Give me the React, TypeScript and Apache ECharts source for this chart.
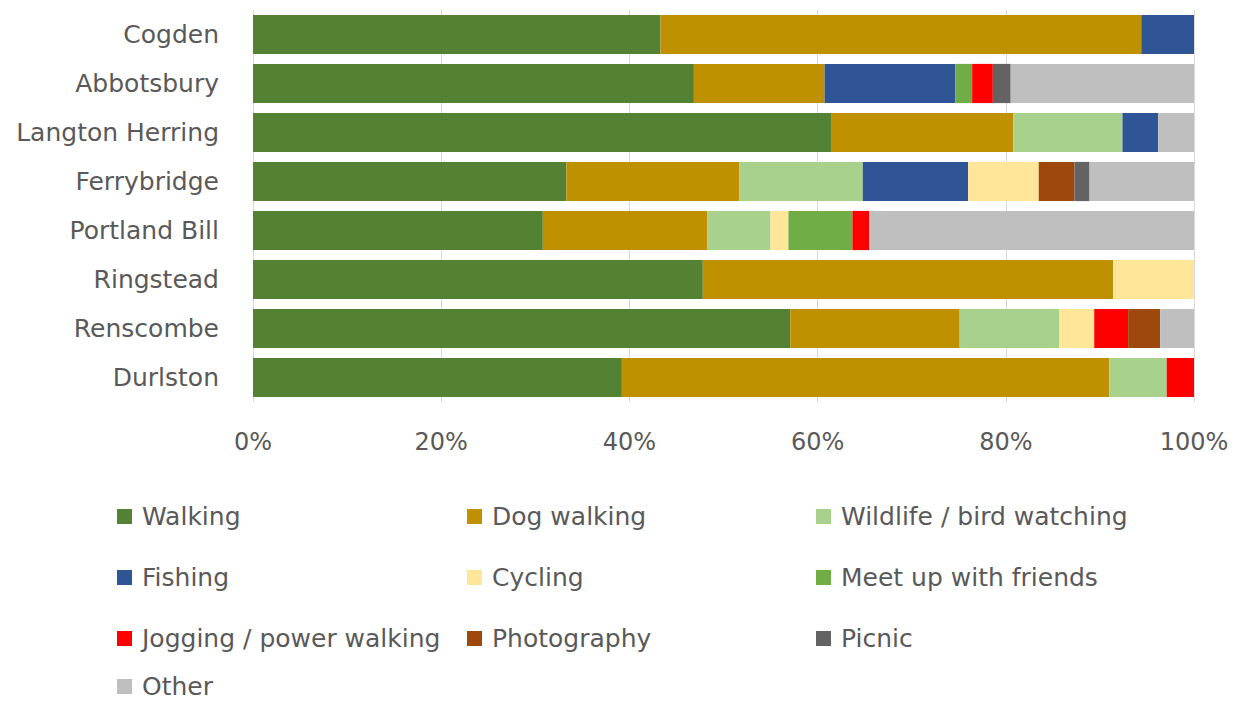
import React, { useEffect, useRef } from "react";
import * as echarts from "echarts";

const categories = ["Cogden", "Abbotsbury", "Langton Herring", "Ferrybridge", "Portland Bill", "Ringstead", "Renscombe", "Durlston"];

const seriesNames = [
  "Walking",
  "Dog walking",
  "Wildlife / bird watching",
  "Fishing",
  "Cycling",
  "Meet up with friends",
  "Jogging / power walking",
  "Photography",
  "Picnic",
  "Other",
];

const colors = ["#548235", "#BF9000", "#A9D18E", "#2F5597", "#FFE699", "#70AD47", "#FF0000", "#9E480E", "#636363", "#BFBFBF"];

// percentages, one value per category (Cogden ... Durlston)
const walking = [43.3, 46.9, 61.5, 33.3, 30.8, 47.8, 57.1, 39.2];
const dogWalking = [51.1, 13.9, 19.3, 18.4, 17.5, 43.6, 18.0, 51.8];
const wildlife = [0, 0, 11.6, 13.1, 6.7, 0, 10.6, 6.1];
const fishing = [5.6, 13.9, 3.8, 11.2, 0, 0, 0, 0];
const cycling = [0, 0, 0, 7.5, 1.9, 8.6, 3.7, 0];
const meetUp = [0, 1.8, 0, 0, 6.8, 0, 0, 0];
const jogging = [0, 2.2, 0, 0, 1.8, 0, 3.6, 2.9];
const photography = [0, 0, 0, 3.8, 0, 0, 3.4, 0];
const picnic = [0, 1.9, 0, 1.6, 0, 0, 0, 0];
const other = [0, 19.5, 3.8, 11.1, 34.5, 0, 3.6, 0];

const seriesValues = [walking, dogWalking, wildlife, fishing, cycling, meetUp, jogging, photography, picnic, other];

const xTicks = [0, 20, 40, 60, 80, 100];

// legend layout: [marker x, row center y]
const legendPos: [number, number][] = [
  [117, 519],
  [467, 519],
  [816, 519],
  [117, 580],
  [467, 580],
  [816, 580],
  [117, 641],
  [467, 641],
  [816, 641],
  [117, 689],
];

const FONT = "'DejaVu Sans', 'Open Sans', sans-serif";

export default function App() {
  const ref = useRef<HTMLDivElement>(null);
  useEffect(() => {
    if (!ref.current) return;
    const chart = echarts.init(ref.current, undefined, { renderer: "svg" });
    const totals = categories.map((_, i) => seriesValues.reduce((s, arr) => s + arr[i], 0));
    chart.setOption({
      animation: false,
      backgroundColor: "#ffffff",
      textStyle: { fontFamily: FONT },
      grid: { left: 253, right: 40, top: 10, bottom: 304, containLabel: false },
      xAxis: {
        type: "value",
        min: 0,
        max: 100,
        interval: 20,
        axisLine: { show: false },
        axisTick: { show: false },
        splitLine: { show: true, lineStyle: { color: "#D9D9D9", width: 1 } },
        axisLabel: {
          formatter: (v: number) => (xTicks.includes(v) ? `${v}%` : ""),
          color: "#595959",
          fontSize: 24,
          fontFamily: FONT,
          margin: 28,
        },
      },
      yAxis: {
        type: "category",
        data: categories,
        inverse: true,
        axisLine: { show: false },
        axisTick: { show: false },
        axisLabel: { color: "#595959", fontSize: 25, fontFamily: FONT, margin: 34 },
      },
      legend: seriesNames.map((name, i) => ({
        data: [name],
        left: legendPos[i][0],
        top: legendPos[i][1] - 15,
        padding: 0,
        icon: "rect",
        itemWidth: 15,
        itemHeight: 15,
        selectedMode: false,
        textStyle: { color: "#595959", fontSize: 25, fontFamily: FONT, padding: [0, 0, 0, 5] },
      })),
      series: seriesNames.map((name, i) => ({
        name,
        type: "bar",
        stack: "total",
        barCategoryGap: "20%",
        itemStyle: { color: colors[i] },
        data: seriesValues[i].map((v, j) => (v / totals[j]) * 100),
      })),
    });
    return () => chart.dispose();
  }, []);
  return <div ref={ref} style={{ width: 1234, height: 706, position: "absolute", left: 0, top: 0 }} />;
}
